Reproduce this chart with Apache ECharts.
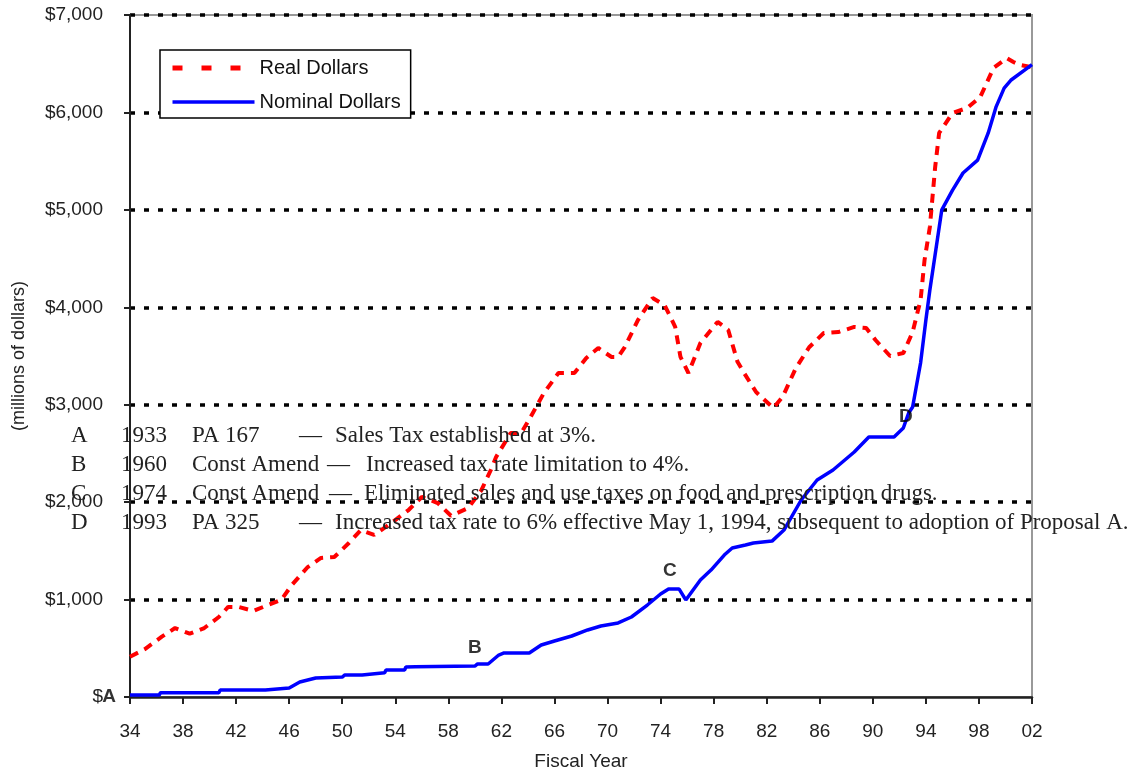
<!DOCTYPE html>
<html><head><meta charset="utf-8">
<script src="https://cdn.jsdelivr.net/npm/echarts@6/dist/echarts.min.js"></script>
<style>html,body{margin:0;padding:0;background:#fff}#c{width:1140px;height:771px}</style>
</head><body><div id="c"></div>
<script>
const BASE_YEAR = 1934;
const yTickValues = [0, 1000, 2000, 3000, 4000, 5000, 6000, 7000];

const realYears = [1934.0,1935.1,1936.4,1937.4,1938.5,1939.6,1940.7,1941.4,1942.2,1943.3,1944.4,1945.4,1946.2,1947.4,1948.4,1949.4,1950.5,1951.4,1952.4,1953.7,1955.0,1956.0,1957.2,1958.2,1959.5,1960.5,1961.2,1961.6,1962.7,1963.5,1964.2,1965.2,1966.3,1967.5,1968.4,1969.3,1970.3,1970.8,1971.3,1972.3,1973.4,1974.3,1975.1,1975.5,1976.1,1977.0,1978.3,1979.1,1979.8,1980.3,1981.2,1982.5,1983.2,1984.2,1985.2,1986.3,1987.4,1988.6,1989.5,1990.2,1991.3,1992.3,1993.0,1993.6,1993.9,1994.3,1994.5,1994.7,1995.0,1995.3,1996.0,1997.1,1998.1,1999.1,2000.1,2000.6,2001.1,2001.9];
const realValues = [414,490,619,708,650,708,821,924,924,883,944,996,1150,1334,1427,1437,1580,1714,1663,1786,1919,2053,1991,1860,1940,2125,2330,2463,2710,2710,2874,3120,3325,3325,3480,3582,3490,3490,3592,3870,4095,4023,3800,3490,3325,3633,3850,3767,3440,3325,3130,2966,3080,3377,3590,3736,3746,3798,3787,3664,3500,3530,3746,4075,4485,4824,5132,5440,5789,5850,5994,6045,6158,6456,6558,6518,6487,6466];

const nominalYears = [1934.0,1936.2,1936.3,1940.7,1940.8,1944.2,1944.3,1946.0,1946.8,1948.0,1950.0,1950.2,1951.5,1951.6,1953.2,1953.3,1954.7,1954.8,1955.5,1955.6,1960.0,1960.2,1961.0,1961.8,1962.2,1964.1,1965.0,1966.0,1967.3,1968.5,1969.5,1970.8,1971.8,1973.0,1974.0,1974.6,1975.4,1975.9,1977.0,1977.8,1978.8,1979.4,1980.4,1981.0,1982.4,1983.3,1984.6,1985.8,1987.0,1988.6,1989.7,1991.6,1992.3,1992.7,1993.0,1993.6,1994.0,1994.3,1995.2,1996.0,1996.8,1997.9,1998.7,1999.3,1999.9,2000.4,2002.0];
const nominalValues = [20,20,44,44,72,72,92,92,154,195,205,226,226,246,250,277,277,308,310,318,318,339,339,431,452,452,534,575,626,688,729,760,821,944,1057,1108,1108,996,1200,1303,1457,1530,1560,1580,1600,1714,2022,2227,2330,2515,2669,2669,2761,2915,2977,3428,3870,4177,5000,5200,5378,5510,5790,6060,6250,6330,6490];

const markerLabels = ['A', 'B', 'C', 'D'];
const markerYears = [1934, 1960.0, 1974.7, 1992.5];
const markerValues = [0, 510, 1300, 2875];

const noteLetters = ['A', 'B', 'C', 'D'];
const noteYears = ['1933', '1960', '1974', '1993'];
const noteActs = ['PA 167', 'Const Amend', 'Const Amend', 'PA 325'];
const noteTexts = [
  'Sales Tax established at 3%.',
  'Increased tax rate limitation to 4%.',
  'Eliminated sales and use taxes on food and prescription drugs.',
  'Increased tax rate to 6% effective May 1, 1994, subsequent to adoption of Proposal A.'
];

const chart = echarts.init(document.getElementById('c'), null, {renderer: 'canvas'});
const SANS = '"Liberation Sans", Arial, sans-serif';
const SERIF = '"Liberation Serif", "Times New Roman", serif';

const toPairs = (xs, ys) => xs.map((x, i) => [x - BASE_YEAR, ys[i]]);

// layout for the notes block
const noteRowY = [437, 466, 495, 524];
const noteDashX = [299, 327, 329, 299];
const noteDescX = [335, 366, 364, 335];
const graphics = [];
noteLetters.forEach((l, i) => {
  const st = (x, t) => ({type: 'text', left: x, top: noteRowY[i] - 13, z: 100,
    style: {text: t, font: '23px ' + SERIF, fill: '#222'}});
  graphics.push(st(71, l));
  graphics.push(st(121, noteYears[i]));
  graphics.push(st(192, noteActs[i]));
  graphics.push(st(noteDashX[i], '\u2014'));
  graphics.push(st(noteDescX[i], noteTexts[i]));
});

chart.setOption({
  animation: false,
  backgroundColor: '#fff',
  grid: {left: 130, right: 108, top: 15, bottom: 74, show: true, borderColor: '#999', borderWidth: 2,
    backgroundColor: 'transparent', containLabel: false, outerBoundsMode: 'none'},
  legend: {
    orient: 'vertical', left: 160, top: 50,
    padding: [8, 10, 6, 10],
    itemWidth: 82, itemHeight: 18, itemGap: 14,
    backgroundColor: '#fff', borderColor: '#000', borderWidth: 1.5,
    textStyle: {fontFamily: SANS, fontSize: 20, color: '#111'},
    data: [
      {name: 'Real Dollars', itemStyle: {opacity: 0}, lineStyle: {type: [10, 19], width: 5, color: '#ff0000'}},
      {name: 'Nominal Dollars', itemStyle: {opacity: 0}, lineStyle: {width: 3.5, color: '#0000ff'}}
    ],
    z: 50
  },
  xAxis: {
    type: 'value', min: 0, max: 68, interval: 4,
    name: 'Fiscal Year', nameLocation: 'middle', nameGap: 55,
    nameTextStyle: {fontFamily: SANS, fontSize: 19, color: '#222'},
    axisLine: {show: true, lineStyle: {color: '#222', width: 2.5}},
    axisTick: {show: true, length: 7, lineStyle: {color: '#222', width: 2}},
    axisLabel: {margin: 25, fontFamily: SANS, fontSize: 19, color: '#222',
      formatter: v => String((BASE_YEAR + v) % 100).padStart(2, '0')},
    splitLine: {show: false}
  },
  yAxis: {
    type: 'value', min: yTickValues[0], max: yTickValues[yTickValues.length - 1], interval: 1000,
    name: '(millions of dollars)', nameLocation: 'middle', nameGap: 102, nameRotate: 90,
    nameTextStyle: {fontFamily: SANS, fontSize: 18, color: '#222'},
    axisLine: {show: true, lineStyle: {color: '#222', width: 2}},
    axisTick: {show: true, length: 6, lineStyle: {color: '#222', width: 2}},
    axisLabel: {margin: 27, fontFamily: SANS, fontSize: 19, color: '#222',
      formatter: v => v === 0 ? '$' : '$' + v.toLocaleString('en-US')},
    splitLine: {show: true, showMinLine: false, lineStyle: {color: '#000', width: 3.5, type: [5, 9]}}
  },
  series: [
    {
      name: 'Real Dollars', type: 'line', symbol: 'none', smooth: false,
      data: toPairs(realYears, realValues),
      lineStyle: {color: '#ff0000', width: 4, type: [9, 7]},
      itemStyle: {color: '#ff0000'}, z: 3
    },
    {
      name: 'Nominal Dollars', type: 'line', symbol: 'none',
      data: toPairs(nominalYears, nominalValues),
      lineStyle: {color: '#0000ff', width: 3.5},
      itemStyle: {color: '#0000ff'}, z: 4
    },
    {
      name: 'markers', type: 'scatter', symbolSize: 1, clip: false, silent: true,
      itemStyle: {color: 'rgba(0,0,0,0)'},
      data: markerLabels.map((m, i) => ({
        value: [markerYears[i] - BASE_YEAR, markerValues[i]], name: m,
        label: {offset: i === 0 ? [-21, 0] : [0, 0]}
      })),
      label: {show: true, position: 'inside', formatter: p => p.name,
        fontFamily: SANS, fontWeight: 'bold', fontSize: 19, color: '#000'},
      z: 10
    }
  ],
  graphic: graphics
});
</script></body></html>
